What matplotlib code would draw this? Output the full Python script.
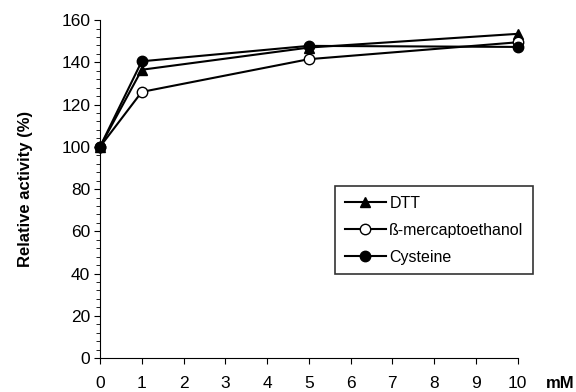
import matplotlib
matplotlib.use('Agg')
from matplotlib import pyplot as plt
from matplotlib.ticker import MultipleLocator

plt.rcParams['font.family'] = ['Liberation Sans', 'DejaVu Sans']

conc = [0, 1, 5, 10]
dtt = [100, 136.5, 147, 153.5]
merc = [100, 126, 141.5, 149.5]
cys = [100, 140.5, 147.8, 147.3]
xticks = list(range(0, 11))

fig = plt.figure(figsize=(5.76, 3.92), dpi=100)
ax = fig.add_axes([0.1736, 0.0867, 0.725, 0.862])

ax.plot(conc, dtt, '-^', color='black', lw=1.5, ms=7.5, label='DTT', clip_on=False)
ax.plot(conc, merc, '-o', color='black', mfc='white', lw=1.5, ms=7.5,
        label='ß-mercaptoethanol', clip_on=False)
ax.plot(conc, cys, '-o', color='black', lw=1.5, ms=7.5, label='Cysteine', clip_on=False)

ax.set_xlim(0, 10)
ax.set_ylim(0, 160)
ax.set_xticks(xticks)
ax.yaxis.set_major_locator(MultipleLocator(20))
ax.yaxis.set_minor_locator(MultipleLocator(4))
ax.tick_params(axis='x', direction='out', length=4, pad=9, labelsize=12.5)
ax.tick_params(axis='y', which='major', direction='out', length=4, pad=3, labelsize=12.5)
ax.tick_params(axis='y', which='minor', direction='out', length=3)
for s in ['top', 'right']:
    ax.spines[s].set_visible(False)

ax.set_ylabel('Relative activity (%)', fontsize=12, fontweight='bold', labelpad=20)
fig.text(546 / 576, 1 - 383 / 392, 'mM', fontsize=12, fontweight='bold',
         ha='left', va='center')

leg = ax.legend(loc='upper left', bbox_to_anchor=(335 / 576, 1 - 186 / 392),
                bbox_transform=fig.transFigure, fontsize=11.5,
                frameon=True, fancybox=False, edgecolor='black', handlelength=2.6,
                borderpad=0.6, labelspacing=0.75, handletextpad=0.2,
                borderaxespad=0)
leg.get_frame().set_linewidth(1.2)

fig.savefig('out.png', dpi=100)
